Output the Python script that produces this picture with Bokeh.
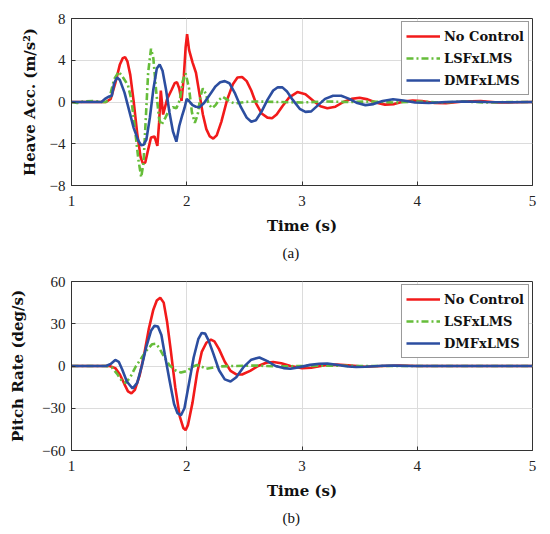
from bokeh.plotting import figure
from bokeh.layouts import column
from bokeh.models import FixedTicker, Range1d, Title, Legend, LegendItem
from bokeh.embed import file_html
from bokeh.resources import INLINE

# ---------------- data: heave acceleration (m/s^2) ----------------
heave_nc_t = [1.0, 1.3, 1.34, 1.38, 1.42, 1.445, 1.465, 1.485, 1.51, 1.54, 1.57, 1.60, 1.62, 1.64,
              1.66, 1.69, 1.72, 1.745, 1.76, 1.775, 1.795, 1.83, 1.87, 1.895, 1.915, 1.935, 1.955,
              1.975, 1.99, 2.003, 2.02, 2.05, 2.08, 2.11, 2.14, 2.17, 2.20, 2.23, 2.26, 2.30, 2.35,
              2.40, 2.44, 2.48, 2.52, 2.56, 2.60, 2.65, 2.70, 2.74, 2.78, 2.83, 2.89, 2.96, 3.03,
              3.10, 3.16, 3.22, 3.29, 3.36, 3.43, 3.50, 3.57, 3.64, 3.72, 3.80, 3.88, 3.96, 4.04,
              4.15, 4.25, 4.4, 4.55, 4.7, 4.85, 5.0]
heave_nc_v = [0, 0, 0.3, 1.8, 3.6, 4.2, 4.3, 3.9, 2.6, 0.0, -3.0, -5.3, -5.9, -5.8,
              -4.8, -3.4, -3.3, -4.2, -2.0, 1.1, -1.2, 0.3, 1.2, 1.8, 1.9, 1.3, 0.1,
              2.5, 5.2, 6.5, 5.0, 3.8, 2.8, 0.8, -1.2, -2.6, -3.3, -3.5, -3.2, -1.9, 0.2,
              1.7, 2.35, 2.4, 2.0, 1.1, -0.1, -1.1, -1.5, -1.55, -1.2, -0.4, 0.45, 0.95, 0.75,
              0.1, -0.4, -0.6, -0.45, 0.0, 0.3, 0.4, 0.25, -0.05, -0.25, -0.2, 0.05, 0.15, 0.1,
              -0.1, -0.12, 0.05, 0.08, -0.05, -0.03, 0]

heave_ls_t = [1.0, 1.05, 1.1, 1.2, 1.25, 1.30, 1.33, 1.37, 1.41, 1.45, 1.49, 1.52, 1.55, 1.58,
              1.605, 1.625, 1.645, 1.665, 1.69, 1.71, 1.735, 1.76, 1.78, 1.81, 1.85, 1.88, 1.91,
              1.94, 1.965, 1.99, 2.02, 2.045, 2.07, 2.095, 2.12, 2.14, 2.165, 2.19, 2.22, 2.25,
              2.28, 2.31, 2.34, 2.38, 2.42, 2.5, 2.6, 2.8, 3.0, 3.2, 3.4, 3.6, 3.8, 4.0, 4.2,
              4.4, 4.6, 4.8, 5.0]
heave_ls_v = [0, -0.1, 0.05, 0.1, 0.0, 0.0, 0.4, 2.2, 2.9, 2.3, 1.6, 0.2, -2.5, -5.5,
              -7.2, -5.8, -1.5, 2.8, 5.1, 4.2, 1.0, -1.6, -2.2, -1.6, -0.7, -0.5, -0.6,
              0.2, 2.0, 2.75, 1.3, -1.0, -2.0, -1.2, 0.6, 1.3, 0.8, -0.2, -0.6, -0.3,
              0.2, 0.5, 0.3, 0.0, -0.15, 0.0, 0.05, 0.0, -0.05, 0.05, 0.0, 0.05, -0.05, 0.05, -0.05,
              0.05, -0.05, 0.0, 0]

heave_dm_t = [1.0, 1.26, 1.29, 1.32, 1.35, 1.37, 1.395, 1.42, 1.46, 1.50, 1.54, 1.58, 1.605, 1.625,
              1.65, 1.68, 1.71, 1.74, 1.765, 1.79, 1.82, 1.85, 1.88, 1.91, 1.935, 1.96, 1.98,
              2.0, 2.02, 2.05, 2.08, 2.11, 2.15, 2.20, 2.25, 2.29, 2.33, 2.37, 2.42, 2.47, 2.52,
              2.56, 2.60, 2.65, 2.70, 2.75, 2.79, 2.83, 2.87, 2.92, 2.98, 3.03, 3.08, 3.14, 3.20,
              3.27, 3.34, 3.41, 3.48, 3.55, 3.62, 3.70, 3.79, 3.88, 3.98, 4.1, 4.25, 4.4, 4.6,
              4.8, 5.0]
heave_dm_v = [0, 0, 0.3, 0.5, 0.6, 1.8, 2.35, 2.1, 0.9, -0.8, -2.5, -3.7, -4.15, -4.1,
              -3.6, -1.5, 1.2, 3.2, 3.6, 3.0, 1.2, -1.0, -2.8, -3.8, -2.3, -1.3, -0.6,
              0.3, 0.1, -0.3, -0.45, -0.5, -0.1, 0.7, 1.5, 1.9, 2.0, 1.8, 0.8, -0.5, -1.5,
              -1.9, -1.75, -0.9, 0.2, 1.1, 1.42, 1.4, 1.0, 0.2, -0.65, -0.95, -0.9, -0.3, 0.3,
              0.6, 0.6, 0.3, -0.1, -0.3, -0.2, 0.1, 0.27, 0.15, -0.05, -0.1, 0.0, 0.05, 0.0,
              -0.03, 0]

# ---------------- data: pitch rate (deg/s) ----------------
pitch_nc_t = [1.0, 1.33, 1.38, 1.42, 1.46, 1.49, 1.52, 1.55, 1.59, 1.63, 1.67, 1.71, 1.74, 1.77,
              1.80, 1.83, 1.86, 1.90, 1.94, 1.97, 1.99, 2.01, 2.05, 2.09, 2.13, 2.17, 2.21, 2.24,
              2.28, 2.33, 2.38, 2.43, 2.48, 2.55, 2.62, 2.69, 2.75, 2.82, 2.9, 3.0, 3.08, 3.2,
              3.3, 3.4, 3.55, 3.7, 3.85, 4.0, 5.0]
pitch_nc_v = [0, 0, -1.5, -6, -13, -18, -19.5, -17, -7, 8, 26, 40, 46.5, 48.5,
              45, 31, 12, -15, -36, -44, -45.5, -42, -26, -5, 10, 16.5, 18.7, 17.5,
              12, 3, -3.5, -6, -6, -3.5, 0, 2.3, 2.8, 2, 0, -1.5, -1.2, 0.5,
              1, 0.5, -0.5, 0, 0.4, 0, 0]

pitch_ls_t = [1.0, 1.30, 1.35, 1.40, 1.44, 1.47, 1.51, 1.56, 1.61, 1.66, 1.70, 1.73, 1.76, 1.80,
              1.85, 1.90, 1.95, 2.00, 2.05, 2.09, 2.13, 2.17, 2.22, 2.28, 2.4, 2.6, 2.8, 3.0,
              3.2, 3.5, 5.0]
pitch_ls_v = [0, 0, -1, -6, -11, -12, -8, 0, 6, 12, 15.5, 15.8, 13, 7,
              0.5, -3, -4.7, -3.5, -0.5, 0.7, -0.5, -2, -1.2, -0.3, 0, 0.3, -0.3, 0,
              0.3, 0, 0]

pitch_dm_t = [1.0, 1.30, 1.34, 1.38, 1.41, 1.44, 1.48, 1.53, 1.57, 1.61, 1.65, 1.69, 1.72, 1.75,
              1.78, 1.81, 1.85, 1.89, 1.92, 1.95, 1.98, 2.02, 2.06, 2.10, 2.13, 2.16, 2.19, 2.23,
              2.28, 2.33, 2.38, 2.43, 2.49, 2.56, 2.63, 2.70, 2.77, 2.84, 2.90, 2.98, 3.07, 3.15,
              3.22, 3.30, 3.40, 3.47, 3.55, 3.7, 3.8, 3.95, 5.0]
pitch_dm_v = [0, 0, 1.5, 4.3, 3, -2.5, -11, -16, -12, 0, 14, 25, 28.5, 28,
              22, 8, -10, -27, -33.5, -35, -30, -12, 6, 19, 23.5, 23, 18, 9,
              -3, -9.5, -11, -8, -1, 4.5, 6, 3.5, 0, -1.5, -1.9, -0.8, 0.8, 1.6,
              1.7, 0.9, -0.3, -0.7, -0.5, 0.2, 0.3, 0, 0]

series_names = ["No Control", "LSFxLMS", "DMFxLMS"]
x_ticks = [1, 2, 3, 4, 5]
heave_ticks = [-8, -4, 0, 4, 8]
heave_tick_labels = ["\u22128", "\u22124", "0", "4", "8"]
pitch_ticks = [-60, -30, 0, 30, 60]
pitch_tick_labels = ["\u221260", "\u221230", "0", "30", "60"]

RED = "#F21A1A"
GREEN = "#66BD3A"
BLUE = "#2C4EA0"
SERIF = "DejaVu Serif"
TICKFONT = "Liberation Serif"


def style(p, yticks, ylabels, ylabel, caption, ystand):
    p.xaxis.ticker = FixedTicker(ticks=x_ticks)
    p.yaxis.ticker = FixedTicker(ticks=yticks)
    p.yaxis.major_label_overrides = {t: l for t, l in zip(yticks, ylabels)}
    for ax in (p.xaxis[0], p.yaxis[0]):
        ax.major_tick_in = 4
        ax.major_tick_out = 0
        ax.minor_tick_in = 0
        ax.minor_tick_out = 0
        ax.axis_line_color = "#333333"
        ax.major_tick_line_color = "#333333"
        ax.major_label_text_font = TICKFONT
        ax.major_label_text_font_size = "15px"
        ax.major_label_text_color = "#222222"
        ax.axis_label_text_font = SERIF
        ax.axis_label_text_font_style = "bold"
        ax.axis_label_text_font_size = "15px"
        ax.axis_label_text_color = "#111111"
    p.xaxis.axis_label = "Time (s)"
    p.xaxis.axis_label_standoff = 8
    p.xaxis.major_label_standoff = 10
    p.yaxis.axis_label = ylabel
    p.yaxis.axis_label_standoff = ystand
    p.yaxis.major_label_standoff = 6
    p.outline_line_color = "#333333"
    p.grid.grid_line_color = "#dcdcdc"
    p.grid.grid_line_width = 1
    cap = Title(text=caption, align="left", text_font=TICKFONT, text_font_size="15px",
                text_font_style="normal", text_color="#111111", offset=211, standoff=11)
    p.add_layout(cap, "below")


def make(ts, vs, yr, yticks, ylabels, ylabel, caption, height, top, bottom, ystand):
    p = figure(width=542, height=height, output_backend="svg", toolbar_location=None,
               x_range=Range1d(1, 5), y_range=Range1d(*yr),
               min_border_left=71, min_border_right=10, min_border_top=top,
               min_border_bottom=bottom)
    p.frame_width = 461
    colors = [RED, GREEN, BLUE]
    dashes = ["solid", "7 3 2 3", "solid"]
    items = []
    for (t, v), c, d, n in zip(zip(ts, vs), colors, dashes, series_names):
        r = p.line(t, v, line_color=c, line_width=2.6, line_dash=d)
        items.append(LegendItem(label=n, renderers=[r]))
    leg = Legend(items=items, location="top_right", margin=3, padding=4, spacing=2,
                 label_text_font=SERIF, label_text_font_style="bold",
                 label_text_font_size="13px", label_text_color="#111111",
                 glyph_width=34, glyph_height=20, label_standoff=4,
                 border_line_color="#333333", border_line_width=1,
                 background_fill_alpha=1)
    p.add_layout(leg, "center")
    style(p, yticks, ylabels, ylabel, caption, ystand)
    return p


p1 = make([heave_nc_t, heave_ls_t, heave_dm_t], [heave_nc_v, heave_ls_v, heave_dm_v],
          (-8, 8), heave_ticks, heave_tick_labels, "Heave Acc. (m/s\u00b2)", "(a)",
          272, 18, 87, 8)
p1.frame_height = 167
p2 = make([pitch_nc_t, pitch_ls_t, pitch_dm_t], [pitch_nc_v, pitch_ls_v, pitch_dm_v],
          (-60, 60), pitch_ticks, pitch_tick_labels, "Pitch Rate (deg/s)", "(b)",
          253, 9, 75, 12)
p2.frame_height = 169

layout = column(p1, p2, spacing=0)
open("out.html", "w").write(file_html(layout, INLINE))
